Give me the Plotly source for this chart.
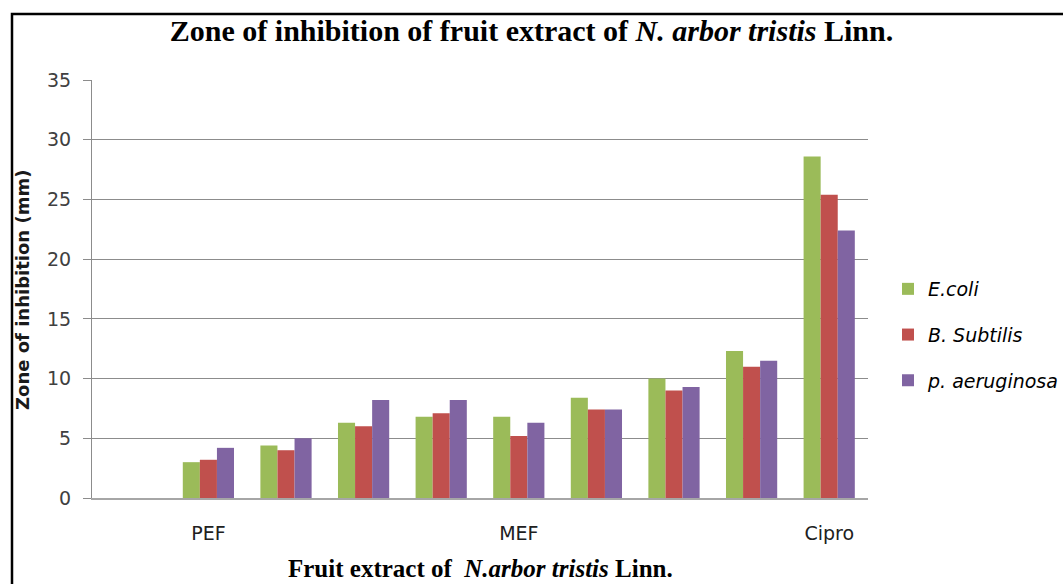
import plotly.graph_objects as go

groups = ["G1", "PEF", "G3", "G4", "G5", "MEF", "G7", "G8", "G9", "Cipro"]
tick_labels = ["", "PEF", "", "", "", "MEF", "", "", "", "Cipro"]
ecoli = [None, 3.0, 4.4, 6.3, 6.8, 6.8, 8.4, 10.0, 12.3, 28.6]
bsubtilis = [None, 3.2, 4.0, 6.0, 7.1, 5.2, 7.4, 9.0, 11.0, 25.4]
paeruginosa = [None, 4.2, 5.0, 8.2, 8.2, 6.3, 7.4, 9.3, 11.5, 22.4]
series_names = ["<i>E.coli</i>", "<i>B. Subtilis</i>", "<i>p. aeruginosa</i>"]
colors = ["#9BBB59", "#C0504D", "#8064A2"]

W, H = 1063, 584
L, R, T, B = 92, 195, 80, 86
PW, PH = W - L - R, H - T - B

fig = go.Figure()
for i, (name, vals) in enumerate(zip(series_names, [ecoli, bsubtilis, paeruginosa])):
    fig.add_trace(go.Bar(x=groups, y=vals, name=name, marker_color=colors[i],
                         marker_line_width=0, legendgroup=f"g{i}"))

fig.update_layout(
    width=W, height=H,
    margin=dict(l=L, r=R, t=T, b=B, autoexpand=False),
    paper_bgcolor="white", plot_bgcolor="white",
    barmode="group", bargap=0.34, bargroupgap=0,
    title=dict(text="<b>Zone of inhibition of fruit extract of <i>N. arbor tristis</i> Linn.</b>",
               x=0.5, xanchor="center", y=1 - 30 / H, yanchor="middle",
               font=dict(family="Liberation Serif", size=30, color="black")),
    legend=dict(x=(888 - L) / PW, y=(H - B - 335) / PH, xanchor="left", yanchor="middle",
                font=dict(family="DejaVu Sans", size=19, color="#000000"),
                tracegroupgap=18, bgcolor="rgba(0,0,0,0)"),
    font=dict(family="DejaVu Sans", color="#404040"),
)
fig.update_xaxes(
    type="category", categoryorder="array", categoryarray=groups,
    tickvals=groups, ticktext=tick_labels, automargin=False,
    showline=True, linecolor="#A6A6A6", linewidth=1.5, ticks="",
    ticklabelstandoff=17,
    tickfont=dict(family="DejaVu Sans", size=19, color="#202020"),
)
fig.update_yaxes(
    range=[0, 35], dtick=5, showgrid=True, gridcolor="#8C8C8C", gridwidth=1.2,
    showline=True, linecolor="#8C8C8C", linewidth=1.2, automargin=False,
    ticks="outside", ticklen=8, tickcolor="#8C8C8C", ticklabelstandoff=8,
    tickfont=dict(family="DejaVu Sans", size=19, color="#404040"),
    zeroline=False,
)
# axis titles
fig.add_annotation(text="<b>Fruit extract of  <i>N.arbor tristis</i> Linn.</b>",
                   xref="paper", yref="paper", x=(480 - L) / PW, y=(H - B - 568) / PH,
                   xanchor="center", yanchor="middle", showarrow=False,
                   font=dict(family="Liberation Serif", size=25, color="black"))
fig.add_annotation(text="<b>Zone of inhibition (mm)</b>", textangle=-90,
                   xref="paper", yref="paper", x=(22 - L) / PW, y=(H - B - 290) / PH,
                   xanchor="center", yanchor="middle", showarrow=False,
                   font=dict(family="DejaVu Sans", size=18, color="#1a1a1a"))
# outer border of the chart frame
fig.add_shape(type="rect", xref="paper", yref="paper",
              x0=(12 - L) / PW, x1=1.3, y0=-0.3, y1=(H - B - 14) / PH,
              line=dict(color="black", width=2.5), fillcolor="rgba(0,0,0,0)", layer="below")

fig.write_html("out.html", config={"displayModeBar": False},
               post_script="document.body.style.margin='0';document.body.style.overflow='hidden';")
